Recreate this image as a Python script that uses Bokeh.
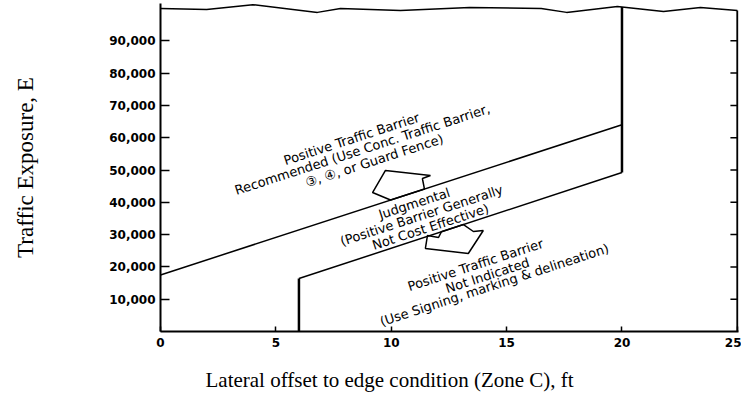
from bokeh.plotting import figure
from bokeh.models import FixedTicker, NumeralTickFormatter, Range1d, Title
from bokeh.core.properties import value
from bokeh.embed import file_html
from bokeh.resources import INLINE

# ---- data ----
x_ticks = [0, 5, 10, 15, 20, 25]
y_ticks = [10000, 20000, 30000, 40000, 50000, 60000, 70000, 80000, 90000]

# upper boundary (positive barrier recommended above this line)
upper_x = [0, 20]
upper_y = [17500, 64000]

# lower boundary (barrier not indicated below this line)
lower_x = [6, 20]
lower_y = [16400, 49200]
low_vert_x = [6, 6]
low_vert_y = [0, 16400]
high_vert_x = [20, 20]
high_vert_y = [49200, 100500]

# right border of the chart
right_x = [25, 25]
right_y = [0, 99400]

# broken top border of the chart
break_x = [0, 2.0, 4.0, 6.8, 7.8, 10.4, 13.4, 16.5, 17.6, 19.8, 21.8, 23.4, 25]
break_y = [100000, 99700, 101200, 98800, 100000, 99400, 100300, 100000, 98800, 100600, 99100, 100300, 99400]

# block arrows (outline vertices)
arrow_up_x = [9.97, 9.19, 9.75, 11.70, 11.35, 11.44]
arrow_up_y = [40700, 43030, 49850, 48300, 47370, 44100]
arrow_down_x = [12.17, 12.05, 11.57, 11.48, 13.34, 13.99, 13.56, 13.13]
arrow_down_y = [30860, 29100, 29720, 25700, 24150, 31270, 30960, 33110]

# region labels
label_text = [
    "Positive Traffic Barrier",
    "Recommended (Use Conc. Traffic Barrier,",
    "\u2462, \u2463, or Guard Fence)",
    "Judgmental",
    "(Positive Barrier Generally",
    "Not Cost Effective)",
    "Positive Traffic Barrier",
    "Not Indicated",
    "(Use Signing, marking & delineation)",
]
label_x = [8.28, 8.75, 9.27, 11.0, 11.31, 11.70, 13.65, 14.17, 14.47]
label_y = [59600, 56350, 52900, 39600, 35910, 32400, 20600, 17340, 14400]

x_title = "Lateral offset to edge condition (Zone C), ft"
y_title = "Traffic Exposure, E"

# ---- figure ----
p = figure(width=741, height=410, title=None,
           x_range=Range1d(0, 25.05), y_range=Range1d(0, 101550),
           output_backend="svg", toolbar_location=None,
           min_border_left=160, min_border_right=3,
           min_border_top=3, min_border_bottom=79)
p.outline_line_color = None
p.xgrid.visible = False
p.ygrid.visible = False
p.background_fill_color = "white"
p.border_fill_color = "white"

tick_font = "DejaVu Sans"

xa = p.xaxis[0]
xa.ticker = FixedTicker(ticks=x_ticks)
xa.major_tick_in = 5
xa.major_tick_out = 0
xa.minor_tick_line_color = None
xa.axis_line_width = 2
xa.major_tick_line_width = 1.5
xa.major_label_text_font = tick_font
xa.major_label_text_font_size = "12px"
xa.major_label_text_font_style = "bold"
xa.major_label_text_color = "black"
xa.major_label_standoff = 6

ya = p.yaxis[0]
ya.ticker = FixedTicker(ticks=y_ticks)
ya.formatter = NumeralTickFormatter(format="0,0")
ya.major_tick_in = 9
ya.major_tick_out = 0
ya.minor_tick_line_color = None
ya.axis_line_width = 2
ya.major_tick_line_width = 1.5
ya.major_label_text_font = tick_font
ya.major_label_text_font_size = "12px"
ya.major_label_text_font_style = "bold"
ya.major_label_text_color = "black"
ya.major_label_standoff = 5
ya.axis_label = y_title
ya.axis_label_text_font = "Liberation Serif"
ya.axis_label_text_font_size = "23px"
ya.axis_label_text_font_style = "normal"
ya.axis_label_text_color = "black"
ya.axis_label_standoff = 68

# right border with inward ticks
p.line(right_x, right_y, line_color="black", line_width=2)
p.segment(x0=[25] * len(y_ticks), y0=y_ticks, x1=[24.7] * len(y_ticks), y1=y_ticks,
          line_color="black", line_width=1.5)

# arrows
p.patch(arrow_up_x, arrow_up_y, fill_color="white", line_color="black", line_width=1.5)
p.patch(arrow_down_x, arrow_down_y, fill_color="white", line_color="black", line_width=1.5)

# boundaries
p.line(upper_x, upper_y, line_color="black", line_width=1.5)
p.line(lower_x, lower_y, line_color="black", line_width=1.5)
p.line(low_vert_x, low_vert_y, line_color="black", line_width=2.5)
p.line(high_vert_x, high_vert_y, line_color="black", line_width=2.5)
p.line(break_x, break_y, line_color="black", line_width=1.5)

p.text(x=label_x, y=label_y, text=label_text, angle=18, angle_units="deg",
       text_font=value("DejaVu Sans"), text_font_size="13px", text_color="black",
       text_align="center", text_baseline="middle")

# x title as a below-panel title, shifted left like the reference
xt = Title(text=x_title, align="left", offset=45, standoff=32, vertical_align="bottom",
           text_font="Liberation Serif", text_font_size="21px",
           text_font_style="normal", text_color="black")
p.add_layout(xt, "below")

open("out.html", "w").write(file_html(p, INLINE))
